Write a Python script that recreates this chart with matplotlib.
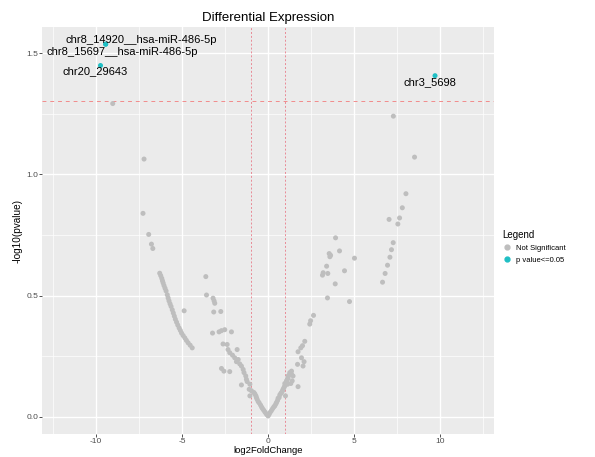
import matplotlib
matplotlib.use("Agg")
import matplotlib.pyplot as plt
from matplotlib.lines import Line2D

plt.rcParams['font.family'] = ['Liberation Sans', 'DejaVu Sans']
plt.rcParams['axes.unicode_minus'] = False

# non-significant points (log2FoldChange, -log10(pvalue))
ns_lfc = [
    -9.03, -7.21, -7.27, -6.94, -6.78, -6.70,
    -6.30, -6.24, -6.18, -6.14, -6.10, -6.05, -5.99, -5.93, -5.86, -5.81,
    -5.76, -5.70, -5.64, -5.57, -5.51, -5.45, -5.39, -5.32, -5.25, -5.17,
    -5.10, -5.03, -4.94, -4.84, -4.75, -4.65, -4.53, -4.41, -4.88,
    -3.62, -3.58, -3.20, -3.14, -3.10, -3.16, -2.75, -3.23, -2.85, -2.71,
    -2.52, -2.13, -2.62, -2.38, -2.33, -1.80, -2.23, -2.07, -1.94, -1.74,
    -1.84, -1.65, -1.55, -2.71, -2.57, -2.23, -1.45, -1.40, -1.30, -1.26,
    -1.22, -1.55, -1.06, -1.10, -0.97, -0.83, -1.06, -0.77, -0.71, -0.68,
    -0.64, -0.58, -0.52, -0.44, -0.38, -0.33, -0.26, -0.19, -0.12, -0.06,
    0.00,
    0.06, 0.12, 0.19, 0.26, 0.33, 0.39, 0.45, 0.49, 0.55, 0.58, 0.64, 0.68,
    0.74, 0.78, 0.84, 0.87, 0.92, 0.97, 1.01, 1.07, 0.97, 1.07, 1.12, 1.16,
    1.26, 1.16, 1.36, 1.26, 1.36, 1.45, 1.40, 1.32, 1.13, 1.74, 1.71, 2.03,
    1.94, 2.09, 1.74, 1.90, 2.00, 2.13, 2.42, 2.47, 2.64, 3.45, 3.90, 4.73,
    3.20, 3.16, 3.47, 3.40, 3.55, 3.63, 3.59, 4.15, 3.92, 4.44, 5.02,
    6.65, 6.80, 6.94, 7.08, 7.17, 7.27, 7.03, 7.54, 7.64, 7.80, 8.01, 8.51,
    7.28,
]
ns_logp = [
    1.292, 1.063, 0.839, 0.752, 0.712, 0.694,
    0.592, 0.582, 0.571, 0.561, 0.552, 0.541, 0.530, 0.519, 0.503, 0.490,
    0.478, 0.466, 0.455, 0.441, 0.428, 0.415, 0.402, 0.390, 0.378, 0.366,
    0.356, 0.345, 0.335, 0.325, 0.315, 0.305, 0.295, 0.284, 0.437,
    0.578, 0.502, 0.489, 0.478, 0.468, 0.432, 0.434, 0.345, 0.350, 0.355,
    0.359, 0.350, 0.300, 0.298, 0.277, 0.277, 0.264, 0.254, 0.243, 0.236,
    0.227, 0.218, 0.209, 0.199, 0.188, 0.186, 0.195, 0.182, 0.168, 0.154,
    0.145, 0.131, 0.134, 0.113, 0.107, 0.100, 0.086, 0.094, 0.086, 0.079,
    0.072, 0.063, 0.057, 0.048, 0.040, 0.034, 0.027, 0.020, 0.013, 0.008,
    0.003,
    0.010, 0.018, 0.025, 0.033, 0.040, 0.045, 0.053, 0.059, 0.067, 0.076,
    0.079, 0.090, 0.096, 0.100, 0.107, 0.113, 0.120, 0.127, 0.086, 0.141,
    0.137, 0.148, 0.154, 0.160, 0.175, 0.168, 0.188, 0.182, 0.175, 0.168,
    0.148, 0.137, 0.134, 0.124, 0.216, 0.209, 0.243, 0.227, 0.268, 0.284,
    0.293, 0.311, 0.382, 0.396, 0.418, 0.490, 0.548, 0.475,
    0.594, 0.584, 0.591, 0.621, 0.673, 0.666, 0.660, 0.684, 0.738, 0.602,
    0.654,
    0.555, 0.591, 0.625, 0.658, 0.689, 0.718, 0.814, 0.795, 0.820, 0.862,
    0.920, 1.071, 1.240,
]

# significant points
sig_names = ["chr8_14920__hsa-miR-486-5p", "chr8_15697__hsa-miR-486-5p",
             "chr20_29643", "chr3_5698"]
sig_lfc = [-9.44, -9.44, -9.74, 9.70]
sig_logp = [1.537, 1.537, 1.449, 1.407]

# label offsets in points (where ggrepel put them)
label_offsets = [(25.6, 3.1), (11.9, -5.5), (-4.1, -3.8), (-4.0, -4.3)]

fig = plt.figure(figsize=(5.95, 4.57), dpi=100)
ax = fig.add_axes([0.0706, 0.050, 0.760, 0.891])
ax.set_facecolor("#EBEBEB")

ax.set_xlim(-13.14, 13.14)
ax.set_ylim(-0.072, 1.608)
ax.set_xticks([-10, -5, 0, 5, 10])
ax.set_xticks([-12.5, -7.5, -2.5, 2.5, 7.5, 12.5], minor=True)
ax.set_yticks([0.0, 0.5, 1.0, 1.5])
ax.set_yticks([0.25, 0.75, 1.25], minor=True)
ax.set_yticklabels(["0.0", "0.5", "1.0", "1.5"])
ax.grid(True, which="major", color="white", lw=1.0)
ax.grid(True, which="minor", color="white", lw=0.5)
ax.set_axisbelow(True)
for s in ax.spines.values():
    s.set_visible(False)
ax.tick_params(which="major", length=2.0, width=0.6, color="#333333",
               labelsize=6, labelcolor="#4D4D4D", pad=0.8)
ax.tick_params(which="minor", length=0)

# thresholds: p = 0.05 and |log2FC| = 1
ax.axhline(1.301, color="#F28C8C", lw=0.7, ls=(0, (4, 4)), zorder=1)
ax.axvline(-1, color="#E88A96", lw=0.7, ls=(0, (2, 2)), zorder=1)
ax.axvline(1, color="#E88A96", lw=0.7, ls=(0, (2, 2)), zorder=1)

ax.scatter(ns_lfc, ns_logp, s=13, color="#BEBEBE", edgecolors="none", zorder=3)
ax.scatter(sig_lfc, sig_logp, s=13, color="#1FBFC4", edgecolors="none", zorder=3)

for name, x, y, off in zip(sig_names, sig_lfc, sig_logp, label_offsets):
    ax.annotate(name, (x, y), xytext=off, textcoords="offset points",
                ha="center", va="center", fontsize=8, color="black", zorder=4)

ax.set_title("Differential Expression", fontsize=9.5, pad=4)
ax.set_xlabel("log2FoldChange", fontsize=6.8, va="top")
ax.xaxis.set_label_coords(0.5, -0.030)
ax.set_ylabel("-log10(pvalue)", fontsize=7.2, labelpad=3)

handles = [
    Line2D([], [], marker="o", ls="none", color="#BEBEBE", markersize=3.5),
    Line2D([], [], marker="o", ls="none", color="#1FBFC4", markersize=3.5),
]
leg = fig.legend(handles, ["Not Significant", "p value<=0.05"], title="Legend",
                 loc="upper left", bbox_to_anchor=(0.833, 0.512),
                 frameon=False, fontsize=5.5, title_fontsize=7,
                 handlelength=1.2, handletextpad=0.6, labelspacing=0.6)
leg._legend_box.align = "left"

fig.savefig("out.png", dpi=100)
